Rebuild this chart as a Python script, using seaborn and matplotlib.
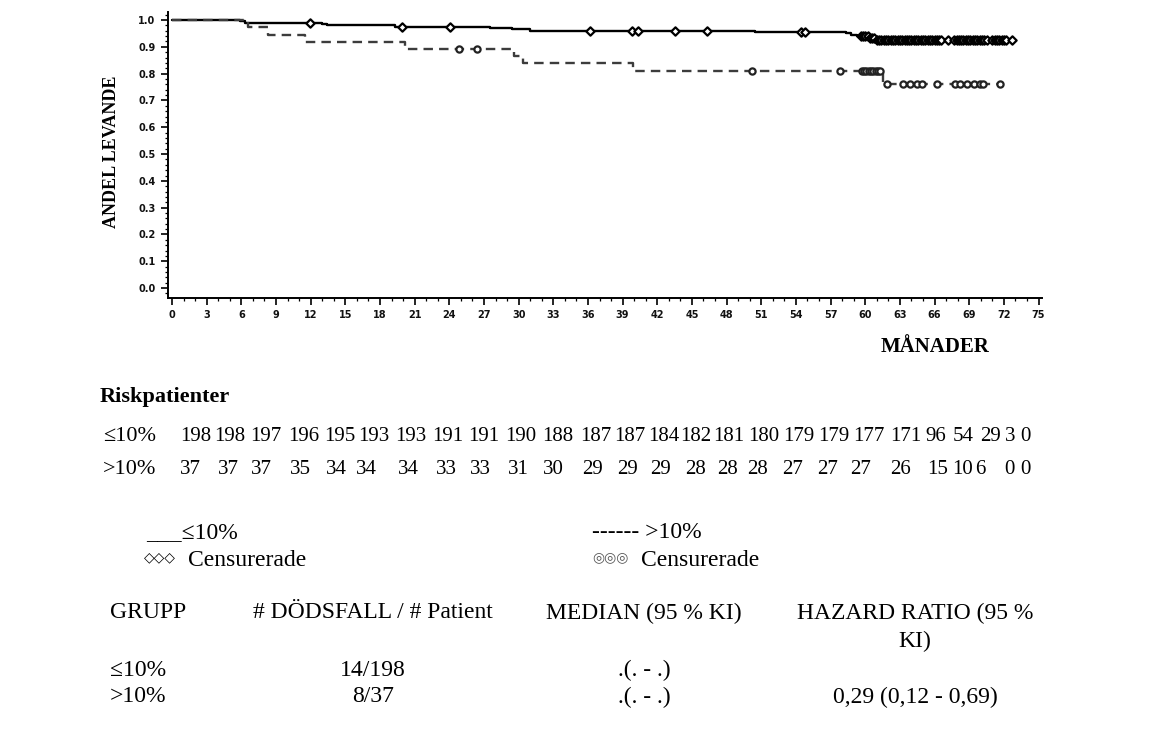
import numpy as np
import pandas as pd
import matplotlib
matplotlib.use("Agg")
import matplotlib.pyplot as plt
import seaborn as sns
from matplotlib.ticker import MultipleLocator, FormatStrFormatter

# ---------------- data ----------------
groups = ["≤10%", ">10%"]

# Kaplan-Meier step curve, group ≤10% (time in months, survival proportion)
time_le = [0, 5.9, 6.3, 13.0, 13.4, 19.3, 27.5, 29.4, 31.0, 50.5, 58.3, 58.8, 59.3, 60.3, 61.0, 72.8]
surv_le = [1.0, 0.995, 0.990, 0.985, 0.980, 0.975, 0.970, 0.965, 0.960, 0.955, 0.950, 0.945, 0.940, 0.933, 0.926, 0.926]

# Kaplan-Meier step curve, group >10%
time_gt = [0, 6.6, 8.3, 11.5, 20.2, 29.6, 30.4, 39.9, 61.5, 72.0]
surv_gt = [1.0, 0.973, 0.946, 0.919, 0.892, 0.865, 0.838, 0.811, 0.763, 0.763]

# censoring times
cens_le = [11.9, 19.9, 24.1, 36.2, 39.8, 40.3, 43.5, 46.3, 54.4, 54.8,
           59.6, 59.8, 60.0, 60.2, 60.4, 60.6, 60.8, 61.0, 61.2, 61.4, 61.6,
           61.8, 62.0, 62.2, 62.4, 62.6, 62.8, 63.0, 63.2, 63.4, 63.6, 63.8,
           64.0, 64.2, 64.4, 64.6, 64.8, 65.0, 65.2, 65.4, 65.6, 65.8, 66.0,
           66.2, 66.4, 66.6, 67.2, 67.7, 67.9, 68.1, 68.3, 68.5, 68.7, 68.9,
           69.1, 69.3, 69.5, 69.7, 69.9, 70.1, 70.3, 70.5, 71.0, 71.2, 71.4,
           71.6, 71.8, 72.0, 72.2, 72.7]
cens_gt = [24.8, 26.4, 50.2, 57.8, 59.7, 59.9, 60.1, 60.3, 60.5, 60.7,
           60.9, 61.1, 61.3, 61.9, 63.3, 63.9, 64.5, 64.9, 66.2, 67.8, 68.2,
           68.8, 69.4, 69.9, 70.2, 71.7]

# number at risk
risk_le = [198, 198, 197, 196, 195, 193, 193, 191, 191, 190, 188, 187, 187,
           184, 182, 181, 180, 179, 179, 177, 171, 96, 54, 29, 3, 0]
risk_gt = [37, 37, 37, 35, 34, 34, 34, 33, 33, 31, 30, 29, 29, 29, 28, 28,
           28, 27, 27, 27, 26, 15, 10, 6, 0, 0]

xticks = list(range(0, 76, 3))
yticks = [0.0, 0.1, 0.2, 0.3, 0.4, 0.5, 0.6, 0.7, 0.8, 0.9, 1.0]

table_header = ["GRUPP", "# DÖDSFALL / # Patient", "MEDIAN (95 % KI)", "HAZARD RATIO (95 %"]
table_deaths = ["14/198", "8/37"]
table_median = [".(. - .)", ".(. - .)"]
table_hr = ["", "0,29 (0,12 - 0,69)"]

# ---------------- figure ----------------
sns.set_theme(style="ticks")
plt.rcParams["font.family"] = ["Liberation Serif", "DejaVu Sans"]

W, H = 1165, 739
fig = plt.figure(figsize=(W / 100, H / 100), dpi=100)
fig.patch.set_facecolor("white")
ax = fig.add_axes([168 / W, 1 - 298 / H, (1042 - 168) / W, (298 - 12) / H])
ax.set_facecolor("white")

curves = pd.concat([
    pd.DataFrame({"t": time_le, "s": surv_le, "g": groups[0]}),
    pd.DataFrame({"t": time_gt, "s": surv_gt, "g": groups[1]}),
], ignore_index=True)

pal = {groups[0]: "black", groups[1]: "#3c3c3c"}
sns.lineplot(data=curves, x="t", y="s", hue="g", style="g", palette=pal,
             dashes={groups[0]: "", groups[1]: (4, 2.6)}, estimator=None,
             sort=False, drawstyle="steps-post", linewidth=1.7, legend=False, ax=ax)


def step_value(times, surv, t):
    idx = np.searchsorted(times, t, side="right") - 1
    return np.asarray(surv)[idx]


cdf_le = pd.DataFrame({"t": cens_le, "s": step_value(time_le, surv_le, cens_le)})
cdf_gt = pd.DataFrame({"t": cens_gt, "s": step_value(time_gt, surv_gt, cens_gt)})
sns.scatterplot(data=cdf_le, x="t", y="s", marker="D", s=18, color="white",
                edgecolor="black", linewidth=1.6, legend=False, ax=ax, zorder=3)
sns.scatterplot(data=cdf_gt, x="t", y="s", marker="o", s=20, color="white",
                edgecolor="#222222", linewidth=1.6, legend=False, ax=ax, zorder=3)

ax.set_xlim(-0.35, 75.3)
ax.set_ylim(-0.037, 1.03)
ax.set_xticks(xticks)
ax.set_yticks(yticks)
ax.xaxis.set_minor_locator(MultipleLocator(1))
ax.yaxis.set_minor_locator(MultipleLocator(0.02))
ax.yaxis.set_major_formatter(FormatStrFormatter("%.1f"))
ax.set_xlabel("")
ax.set_ylabel("")
sns.despine(ax=ax)
for sp in ("left", "bottom"):
    ax.spines[sp].set_linewidth(1.4)
    ax.spines[sp].set_color("black")
ax.tick_params(which="major", length=5, width=1.2, color="black", pad=4)
ax.tick_params(which="minor", length=2.5, width=0.9, color="black")
for lab in ax.get_xticklabels() + ax.get_yticklabels():
    lab.set_fontfamily("DejaVu Sans")
    lab.set_fontweight("bold")
    lab.set_fontsize(7)
    lab.set_color("#111111")


def ptext(x, y, s, **kw):
    kw.setdefault("va", "center")
    kw.setdefault("ha", "left")
    kw.setdefault("fontsize", 17)
    kw.setdefault("color", "black")
    return fig.text(x / W, 1 - y / H, s, **kw)


ptext(112, 152, "ANDEL LEVANDE", rotation=90, ha="center", fontweight="bold", fontsize=13)
ptext(935, 347, "MÅNADER", ha="center", fontweight="bold", fontsize=15)

# risk table
ptext(100, 397, "Riskpatienter", fontweight="bold", fontsize=16)
ptext(103, 436, groups[0], fontsize=16)
ptext(103, 470, groups[1], fontsize=16)
x_le = [180, 214, 250, 288, 324, 358, 395, 432, 468, 505, 542, 580, 614,
        648, 680, 713, 748, 783, 818, 853, 890, 925, 953, 980, 1005, 1020]
x_gt = [180, 218, 251, 290, 326, 356, 398, 436, 470, 508, 543, 582, 617,
        650, 685, 717, 747, 782, 817, 850, 890, 927, 952, 975, 1004, 1020]
for xp, v in zip(x_le, risk_le):
    ptext(xp, 436, str(v), fontsize=15)
for xp, v in zip(x_gt, risk_gt):
    ptext(xp, 470, str(v), fontsize=15)

# legend text
ptext(146, 533, "___" + groups[0])
ptext(144, 557, "◇◇◇", fontsize=10, family=["DejaVu Sans"])
ptext(188, 560, "Censurerade")
ptext(592, 533, "------ " + groups[1])
ptext(592, 557, "◎◎◎", fontsize=10, color="#555555", family=["DejaVu Sans"])
ptext(641, 560, "Censurerade")

# summary table
ptext(110, 613, table_header[0])
ptext(373, 613, table_header[1], ha="center")
ptext(644, 613, table_header[2], ha="center")
ptext(915, 613, table_header[3], ha="center")
ptext(915, 641, "KI)", ha="center")
for i, yp in enumerate([670, 697]):
    ptext(110, yp, groups[i])
    ptext(373, yp, table_deaths[i], ha="center")
    ptext(644, yp, table_median[i], ha="center")
    if table_hr[i]:
        ptext(915, yp, table_hr[i], ha="center")

fig.savefig("out.png", dpi=100, facecolor="white")
